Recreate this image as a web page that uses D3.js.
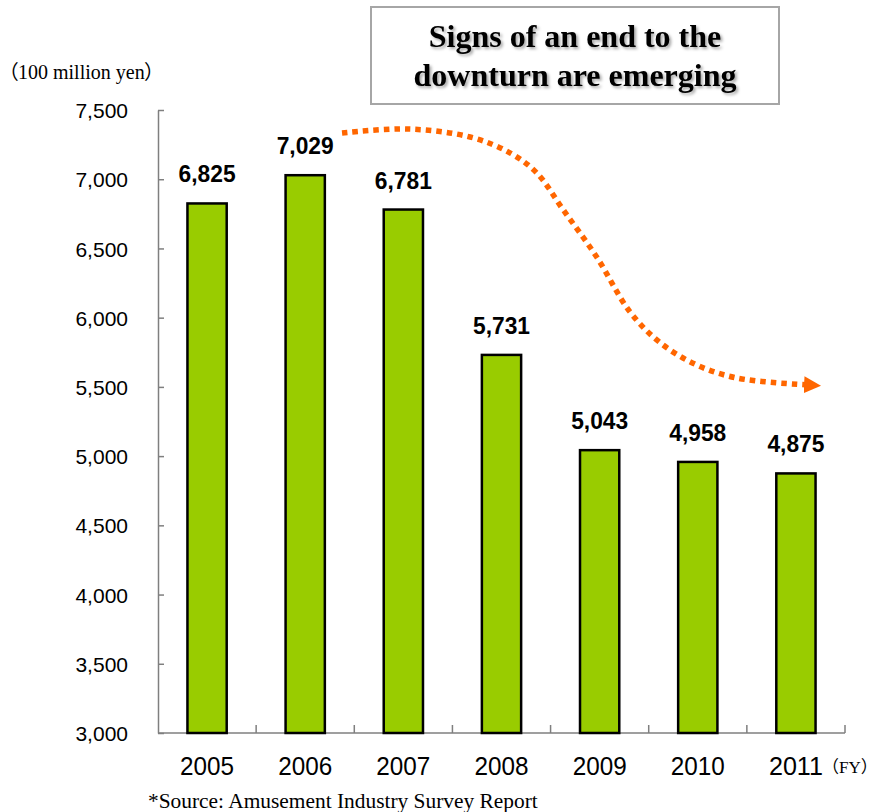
<!DOCTYPE html>
<html>
<head>
<meta charset="utf-8">
<script src="https://cdn.jsdelivr.net/npm/d3@7"></script>
<style>
  html, body { margin: 0; padding: 0; background: #fff; }
  svg { display: block; }
</style>
</head>
<body>
<svg id="chart" width="881" height="812"></svg>
<script>
// ---- data ----
const years = ["2005", "2006", "2007", "2008", "2009", "2010", "2011"];
const values = [6825, 7029, 6781, 5731, 5043, 4958, 4875];
const yTicks = [3000, 3500, 4000, 4500, 5000, 5500, 6000, 6500, 7000, 7500];
const titleLines = ["Signs of an end to the", "downturn are emerging"];
const yUnit = "（100 million yen）";
const xUnit = "（FY）";
const sourceText = "*Source: Amusement Industry Survey Report";
// trend arrow path, in data space: [category position (index), value]
const trendIdx = [1.375, 2.04, 2.68, 3.09, 3.36, 3.63, 3.97, 4.31, 4.62, 4.99, 5.40, 6.10];
const trendVal = [7334, 7363, 7305, 7189, 7045, 6778, 6438, 6041, 5817, 5658, 5564, 5515];

// ---- layout ----
const svg = d3.select("#chart");
const plot = { left: 158, right: 845, top: 110, bottom: 733 };

const x = d3.scaleBand().domain(years).range([plot.left, plot.right])
  .paddingInner(0.6).paddingOuter(0.3);
const xi = d3.scaleLinear().domain([-0.5, years.length - 0.5]).range([plot.left, plot.right]);
const y = d3.scaleLinear().domain([3000, 7500]).range([plot.bottom, plot.top]);

const defs = svg.append("defs");
const f = defs.append("filter").attr("id", "shadow").attr("x", "-10%").attr("y", "-20%")
  .attr("width", "130%").attr("height", "160%");
f.append("feDropShadow").attr("dx", 2).attr("dy", 2).attr("stdDeviation", 1.5)
  .attr("flood-color", "#000").attr("flood-opacity", 0.35);

defs.append("marker").attr("id", "arrowhead")
  .attr("viewBox", "0 0 10 10").attr("refX", 1).attr("refY", 5)
  .attr("markerUnits", "userSpaceOnUse")
  .attr("markerWidth", 17).attr("markerHeight", 17).attr("orient", "auto")
  .append("path").attr("d", "M0,0 L10,5 L0,10 Z").attr("fill", "#FF6600");

// ---- title box ----
svg.append("rect").attr("x", 371).attr("y", 7).attr("width", 408).attr("height", 97)
  .attr("fill", "#fff").attr("stroke", "#A6A6A6").attr("stroke-width", 2);
svg.append("g").attr("filter", "url(#shadow)")
  .selectAll("text").data(titleLines).join("text")
  .attr("x", 575).attr("y", (d, i) => 47 + i * 39)
  .attr("text-anchor", "middle")
  .attr("font-family", "'Liberation Serif', 'Times New Roman', serif")
  .attr("font-weight", "bold").attr("font-size", 32).attr("fill", "#000")
  .text(d => d);

// ---- y axis ----
const yAxis = d3.axisLeft(y).tickValues(yTicks).tickSizeInner(-6).tickSizeOuter(0)
  .tickPadding(30).tickFormat(d3.format(","));
const gy = svg.append("g").attr("transform", `translate(${plot.left},0)`).call(yAxis);
gy.select(".domain").attr("stroke", "#7F7F7F").attr("stroke-width", 1.5);
gy.selectAll(".tick line").attr("stroke", "#7F7F7F").attr("stroke-width", 1.5);
gy.selectAll(".tick text")
  .attr("font-family", "'Liberation Sans', Arial, sans-serif")
  .attr("font-size", 21).attr("fill", "#000").attr("dy", "0.36em");

// ---- x axis ----
const gx = svg.append("g");
gx.append("line").attr("x1", plot.left).attr("x2", plot.right)
  .attr("y1", plot.bottom).attr("y2", plot.bottom)
  .attr("stroke", "#7F7F7F").attr("stroke-width", 1.5);
gx.selectAll("line.sep").data(d3.range(1, years.length + 1)).join("line")
  .attr("class", "sep")
  .attr("x1", i => xi(i - 0.5)).attr("x2", i => xi(i - 0.5))
  .attr("y1", plot.bottom).attr("y2", plot.bottom - 8)
  .attr("stroke", "#7F7F7F").attr("stroke-width", 1.5);
gx.selectAll("text").data(years).join("text")
  .attr("x", d => x(d) + x.bandwidth() / 2).attr("y", 775)
  .attr("text-anchor", "middle")
  .attr("font-family", "'Liberation Sans', Arial, sans-serif")
  .attr("font-size", 26).attr("fill", "#000")
  .attr("textLength", 54).attr("lengthAdjust", "spacingAndGlyphs")
  .text(d => d);

// ---- bars ----
svg.append("g").selectAll("rect").data(values).join("rect")
  .attr("x", (d, i) => x(years[i]))
  .attr("y", d => y(d))
  .attr("width", x.bandwidth())
  .attr("height", d => y(3000) - y(d))
  .attr("fill", "#99CC00").attr("stroke", "#000").attr("stroke-width", 2.5);

svg.append("g").selectAll("text").data(values).join("text")
  .attr("x", (d, i) => x(years[i]) + x.bandwidth() / 2)
  .attr("y", d => y(d) - 21)
  .attr("text-anchor", "middle")
  .attr("font-family", "'Liberation Sans', Arial, sans-serif")
  .attr("font-weight", "bold").attr("font-size", 24).attr("fill", "#000")
  .attr("textLength", 57).attr("lengthAdjust", "spacingAndGlyphs")
  .text(d => d3.format(",")(d));

// ---- trend arrow ----
const trendPts = trendIdx.map((t, i) => [xi(t), y(trendVal[i])]);
svg.append("path")
  .attr("d", d3.line().curve(d3.curveCatmullRom)(trendPts))
  .attr("fill", "none").attr("stroke", "#FF6600").attr("stroke-width", 5.5)
  .attr("stroke-dasharray", "5.5 5")
  .attr("marker-end", "url(#arrowhead)");

// ---- unit labels & source ----
svg.append("text").attr("x", 8).attr("y", 79)
  .attr("font-family", "'Liberation Serif', 'Times New Roman', 'Noto Sans CJK JP', serif")
  .style("font-feature-settings", "'palt' 1")
  .attr("font-size", 20).attr("fill", "#000").text(yUnit);
svg.append("text").attr("x", 822).attr("y", 773)
  .attr("font-family", "'Liberation Serif', 'Times New Roman', 'Noto Sans CJK JP', serif")
  .attr("font-size", 17).attr("fill", "#000").text(xUnit);
svg.append("text").attr("x", 148).attr("y", 808)
  .attr("font-family", "'Liberation Serif', 'Times New Roman', serif")
  .attr("font-size", 21.4).attr("fill", "#000").text(sourceText);
</script>
</body>
</html>
